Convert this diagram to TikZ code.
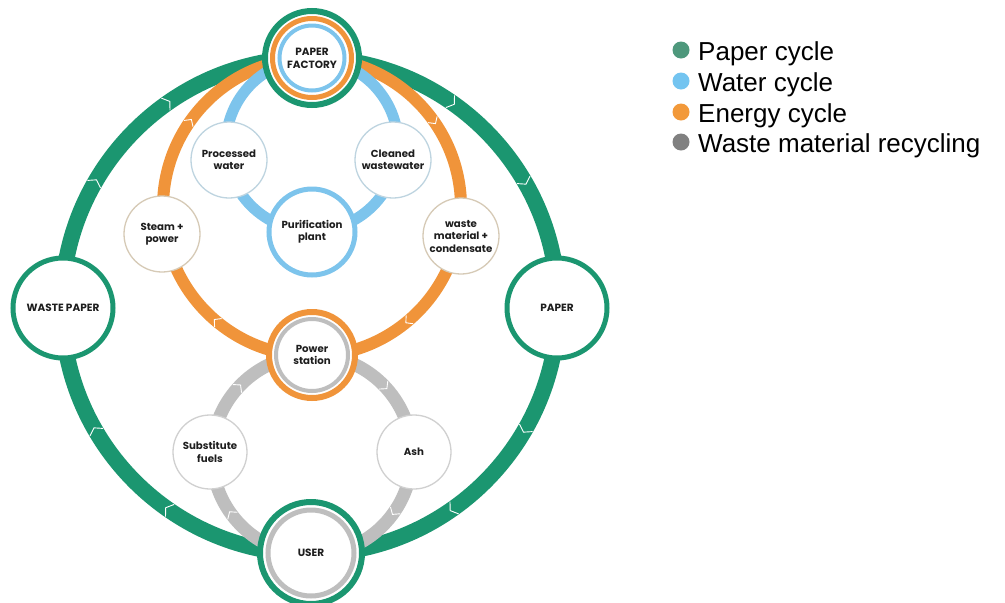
\documentclass[tikz,border=0pt]{standalone}
\usepackage{fontspec}
\setmainfont{Poppins}
\newfontfamily\legendfont{Liberation Sans}
\usetikzlibrary{calc}
\definecolor{pgreen}{RGB}{27,150,112}
\definecolor{porange}{RGB}{240,148,58}
\definecolor{pblue}{RGB}{125,196,236}
\definecolor{pgray}{RGB}{190,190,190}
\definecolor{txt}{RGB}{30,30,30}
\definecolor{bdblue}{RGB}{190,212,224}
\definecolor{bdtan}{RGB}{214,202,182}
\definecolor{bdgray}{RGB}{208,208,208}
\definecolor{lgreen}{RGB}{78,152,124}
\definecolor{lblue}{RGB}{115,196,240}
\definecolor{lorange}{RGB}{242,153,58}
\definecolor{lgray}{RGB}{128,128,128}
\newcommand\chv[5]{%
  \begin{scope}[shift={($(#1,#2)+(#4:#3)$)}, rotate={-(#4)-90}]
    \draw[chevst] (-2.5,-#5) -- (2.5,0) -- (-2.5,#5);
  \end{scope}}
\begin{document}
\begin{tikzpicture}[x=1pt,y=-1pt,
  chevst/.style={draw=white, line width=0.9pt, line join=miter},
  lbl/.style={font=\bfseries\fontsize{10.2}{12.5}\selectfont, align=center, text=txt},
  caps/.style={font=\bfseries\fontsize{10.5}{13}\selectfont, align=center, text=txt},
  bignode/.style={circle, draw=pgreen, line width=5pt, fill=white, minimum size=100pt, inner sep=0pt, caps},
  smallnode/.style={circle, fill=white, line width=1.3pt, minimum size=76pt, inner sep=0pt, lbl},
  legtext/.style={font=\legendfont\fontsize{26}{30}\selectfont, anchor=base west, inner sep=0pt, text=black}]
\useasboundingbox (0,0) rectangle (1005,603);
\fill[white] (0,0) rectangle (1005,603);

% centres of the four cycles
\coordinate (gc) at (310,306);
\coordinate (oc) at (312,207);
\coordinate (bc) at (312,145);
\coordinate (yc) at (312,455);

% rings
\draw[pgreen, line width=16pt] (gc) circle (248);
\draw[porange, line width=12pt] (oc) circle (149);
\draw[pblue, line width=11pt] (bc) circle (86);
\draw[pgray, line width=13pt] (yc) circle (100);

% direction chevrons
\foreach \a in {-150,-125,-55,-30,30,55,125,150} {\chv{310}{306}{248}{\a}{7.5}}
\foreach \a in {-145,-35,50,130} {\chv{312}{207}{149}{\a}{5.5}}
\foreach \a in {-137,-43,35,144} {\chv{312}{455}{100}{\a}{6}}

% big nodes on the paper cycle
\node[bignode] (wp) at (63,308) {WASTE PAPER};
\node[bignode] (pp) at (557,308) {PAPER};

\node[circle, draw=pgreen, line width=6pt, fill=white, minimum size=94pt, inner sep=0pt, caps] (fac) at (312,58) {PAPER\\FACTORY};
\draw[porange, line width=5pt] (fac.center) circle (39.5);
\draw[pblue, line width=4pt] (fac.center) circle (32.5);

\node[circle, draw=pgreen, line width=6pt, fill=white, minimum size=102pt, inner sep=0pt, caps] (usr) at (311,553) {USER};
\draw[pgray, line width=5pt] (usr.center) circle (43);

\node[circle, draw=porange, line width=6pt, fill=white, minimum size=86pt, inner sep=0pt, lbl] (pow) at (312,355) {Power\\station};
\draw[pgray, line width=4pt] (pow.center) circle (36);

% water cycle
\node[smallnode, draw=bdblue] (pw) at (229,160) {Processed\\water};
\node[smallnode, draw=bdblue] (cw) at (393,160) {Cleaned\\wastewater};
\node[circle, draw=pblue, line width=5pt, fill=white, minimum size=86pt, inner sep=0pt, lbl] (pur) at (312,232) {Purification\\plant};

% energy cycle
\node[smallnode, draw=bdtan] (sp) at (162,234) {Steam +\\power};
\node[smallnode, draw=bdtan] (wm) at (461,236) {waste\\material +\\condensate};

% waste material recycling
\node[smallnode, draw=bdgray, minimum size=74pt] (sf) at (210,452) {Substitute\\fuels};
\node[smallnode, draw=bdgray, minimum size=74pt] (ash) at (414,452) {Ash};

% legend
\fill[lgreen] (681,50) circle (8.5);
\fill[lblue] (681,81) circle (8.5);
\fill[lorange] (681,112) circle (8.5);
\fill[lgray] (681,142) circle (8.5);
\node[legtext] (l1) at (698,60) {Paper cycle};
\node[legtext] (l2) at (698,91) {Water cycle};
\node[legtext] (l3) at (698,122) {Energy cycle};
\node[legtext] (l4) at (698,152) {Waste material recycling};
\end{tikzpicture}
\end{document}
